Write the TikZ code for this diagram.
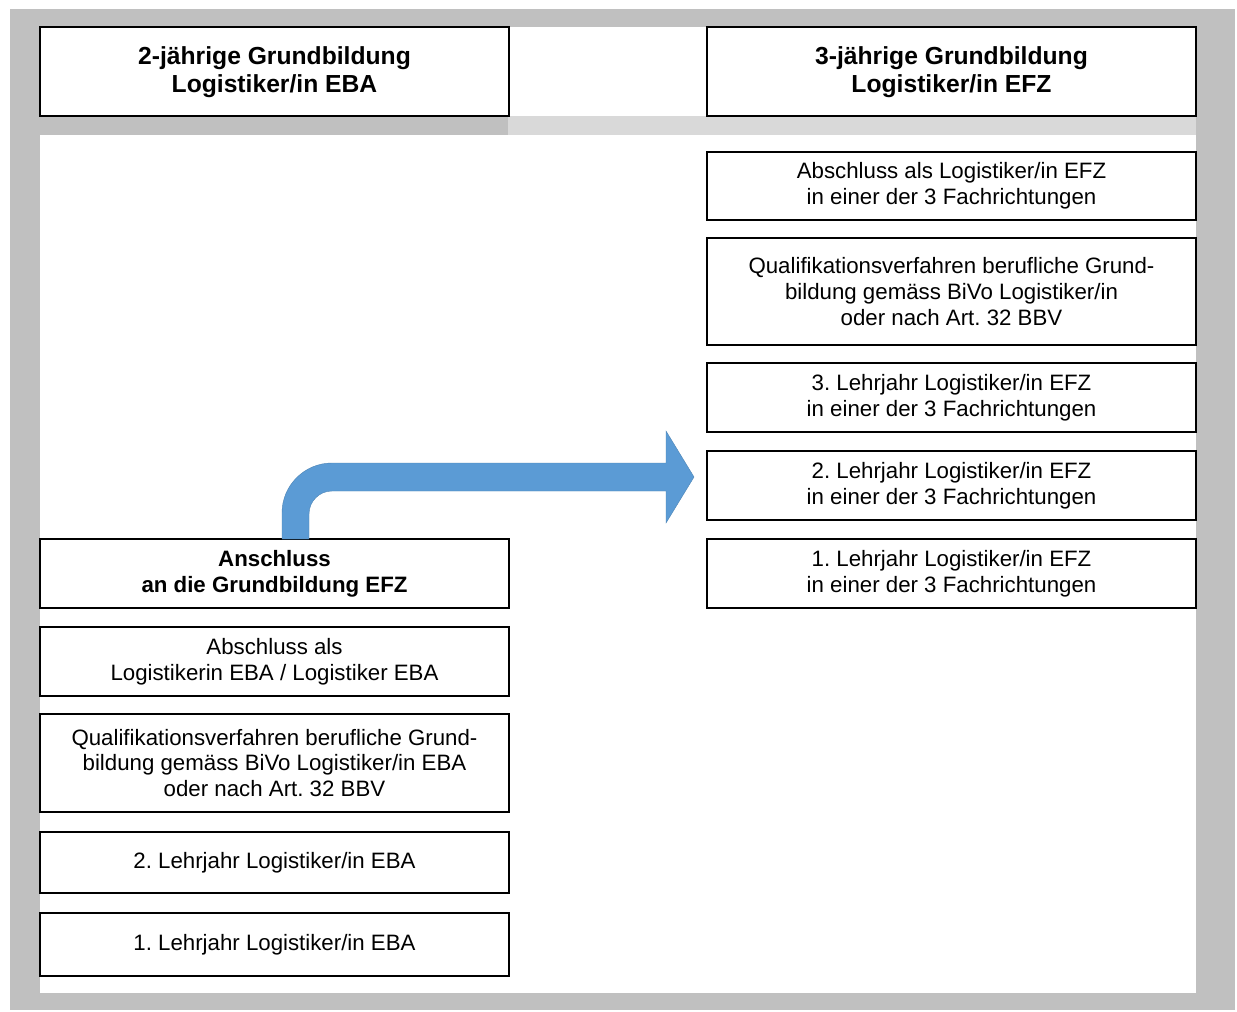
\documentclass[tikz,border=0pt]{standalone}
\usepackage{fontspec}
\setmainfont{Liberation Sans}
\usetikzlibrary{calc}
\definecolor{framegray}{HTML}{C0C0C0}
\definecolor{bargray}{HTML}{D9D9D9}
\definecolor{arrowblue}{HTML}{5B9BD5}
\frenchspacing
\tikzset{
  box/.style={draw=black, line width=0.85pt, fill=white, rectangle, inner sep=0pt, outer sep=0pt,
    align=center, font=\fontsize{16.7}{19.4}\selectfont},
  lbox/.style={box, minimum width=351.75pt},
  rbox/.style={box, minimum width=366.75pt},
  headbox/.style={font=\fontsize{18.5}{21.2}\selectfont\bfseries},
  blockarrow/.style={fill=arrowblue, draw=arrowblue!85!black, line width=0.3pt}
}
\begin{document}
\begin{tikzpicture}[x=0.75pt,y=-0.75pt]
\useasboundingbox (0,0) rectangle (1237,1012);
% frame
\fill[framegray] (9.5,9.5) rectangle (1235,1010);
\fill[white] (40,27) rectangle (1196,993);
\fill[framegray] (40,116) rectangle (508,135);
\fill[bargray] (508,116) rectangle (1196,135);

% headers
\node[lbox, headbox, minimum height=66.75pt] (hl) at (274.5,71.5) {\strut 2-jährige Grundbildung\\Logistiker/in EBA};
\node[rbox, headbox, minimum height=66.75pt] (hr) at (951.5,71.5) {\strut 3-jährige Grundbildung\\Logistiker/in EFZ};

% right column
\node[rbox, minimum height=51pt] (r1) at (951.5,186) {Abschluss als Logistiker/in EFZ\\in einer der 3 Fachrichtungen};
\node[rbox, minimum height=80.25pt] (r2) at (951.5,291.5) {Qualifikationsverfahren berufliche Grund-\\bildung gemäss BiVo Logistiker/in\\oder nach Art. 32 BBV};
\node[rbox, minimum height=51.75pt] (r3) at (951.5,397.5) {3. Lehrjahr Logistiker/in EFZ\\in einer der 3 Fachrichtungen};
\node[rbox, minimum height=51.75pt] (r4) at (951.5,485.5) {2. Lehrjahr Logistiker/in EFZ\\in einer der 3 Fachrichtungen};
\node[rbox, minimum height=51.75pt] (r5) at (951.5,573.5) {1. Lehrjahr Logistiker/in EFZ\\in einer der 3 Fachrichtungen};

% left column
\node[lbox, minimum height=51.75pt, font=\fontsize{16.7}{19.4}\selectfont\bfseries] (l1) at (274.5,573.5) {Anschluss\\an die Grundbildung EFZ};
\node[lbox, minimum height=51.75pt] (l2) at (274.5,661.5) {Abschluss als\\Logistikerin EBA / Logistiker EBA};
\node[lbox, minimum height=73.5pt] (l3) at (274.5,763) {Qualifikationsverfahren berufliche Grund-\\bildung gemäss BiVo Logistiker/in EBA\\oder nach Art. 32 BBV};
\node[lbox, minimum height=45.75pt] (l4) at (274.5,862.5) {2. Lehrjahr Logistiker/in EBA};
\node[lbox, minimum height=47.25pt] (l5) at (274.5,944.5) {1. Lehrjahr Logistiker/in EBA};

% bent block arrow from l1 to r4
\coordinate (as) at ($(l1.north)+(21,0)$);
\coordinate (at) at ($(r4.west)+(-13,-8.5)$);
\fill[blockarrow]
  ($(as)+(-13.5,0)$) -- ($(as)+(-13.5,-26)$)
  .. controls ($(as)+(-13.5,-53.6)$) and ($(as)+(8.9,-76)$) .. ($(as)+(36.5,-76)$)
  -- ($(at)+(-28,-14)$) -- ($(at)+(-28,-46)$) -- (at) -- ($(at)+(-28,46)$) -- ($(at)+(-28,14)$)
  -- ($(as)+(36.5,-48)$)
  .. controls ($(as)+(23.8,-48)$) and ($(as)+(13.5,-37.7)$) .. ($(as)+(13.5,-25)$)
  -- ($(as)+(13.5,0)$) -- cycle;
\end{tikzpicture}
\end{document}
